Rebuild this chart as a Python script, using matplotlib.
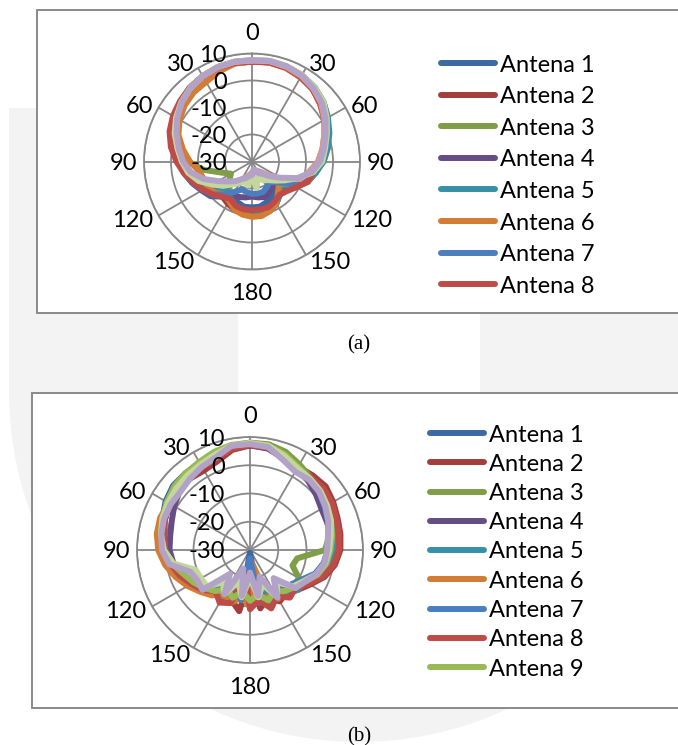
import numpy as np
import matplotlib
matplotlib.use('Agg')
import matplotlib.pyplot as plt
from matplotlib.patches import Rectangle, Wedge

plt.rcParams['font.family'] = ['Lato', 'DejaVu Sans']

W, H = 678, 745

# ---------------- data ----------------
ANGLES = list(range(0, 360, 10))
ANGLE_TICKS = [0, 30, 60, 90, 120, 150, 180, 210, 240, 270, 300, 330]
ANGLE_TICK_LABELS = ['0', '30', '60', '90', '120', '150', '180',
                     '150', '120', '90', '60', '30']
R_TICKS = [10, 0, -10, -20, -30]
R_MIN, R_MAX = -30, 10

# panel (a)
A_NAMES = ['Antena 1', 'Antena 2', 'Antena 3', 'Antena 4', 'Antena 5',
           'Antena 6', 'Antena 7', 'Antena 8', 'Antena 9', 'Antena 10', 'Antena 11']
A_LEGEND_COUNT = 8
A1 = [7.2, 7.5, 7.0, 6.5, 5.0, 3.5, 1.5, -0.5, -2.5, -4.0, -6.0, -8, -12, -15, -16, -15, -14, -13,
      -13, -13, -14, -15, -13, -10, -8.5, -6.5, -4.5, -2.5, -1.0, 0.5, 2.5, 4.0, 5.5, 6.5, 7.0, 7.2]
A2 = [7.0, 7.3, 7.0, 6.0, 5.0, 3.0, 1.0, -1.0, -3.0, -5.0, -7.0, -9, -13, -16, -14, -12, -11, -10.5,
      -10, -10.5, -11, -12, -13, -11, -9, -7, -5, -3, -1, 1.5, 3.5, 4.5, 5.5, 6.3, 6.8, 7.0]
A3 = [7.5, 7.8, 7.5, 7.0, 6.0, 4.5, 2.5, 0.0, -1.5, -3.5, -6.5, -8, -11, -14, -14, -12, -11, -10.5,
      -10, -11, -12, -14, -17, -19, -21, -18, -12, -6, -2.5, 0, 2.0, 4.0, 5.5, 6.5, 7.2, 7.5]
A4 = [7.2, 7.5, 7.0, 6.2, 5.0, 3.5, 1.5, -0.5, -2.5, -4.5, -7.5, -10, -12, -15, -18, -17, -16, -16.5,
      -17, -16.5, -16, -16, -15, -13, -11, -8, -6, -4, -2, 0.5, 2.5, 4.0, 5.5, 6.3, 7.0, 7.2]
A5 = [7.3, 7.6, 7.4, 6.8, 6.0, 4.5, 2.5, 0.5, -1.5, -3.5, -6.0, -9, -13, -16, -14, -12, -10.5, -10,
      -10, -10.5, -12, -14, -16, -13, -10, -7.5, -5.5, -3.5, -1.5, 1.0, 3.0, 4.5, 5.5, 6.5, 7.0, 7.3]
A6 = [7.0, 7.2, 6.8, 6.0, 5.0, 3.0, 1.0, -1.5, -3.5, -5.5, -8, -10, -14, -17, -15, -12, -10.5, -9.5,
      -9.5, -10, -11, -13, -14, -12, -11, -11, -10, -7, -4, -1, 1.0, 2.5, 3.5, 4.0, 5.5, 6.8]
A7 = [7.4, 7.6, 7.2, 6.5, 5.2, 3.5, 1.2, -1.0, -3.0, -5.0, -7.0, -9, -14, -18, -20, -19, -18, -18,
      -18, -18.5, -19, -17, -14, -11, -9, -7, -5, -3, -1.5, 1.0, 3.0, 4.5, 5.8, 6.5, 7.2, 7.4]
A8 = [7.0, 7.2, 7.0, 6.2, 5.0, 3.2, 1.0, -1.0, -3.0, -4.5, -7, -8, -11, -13, -14, -13, -12, -12,
      -12, -12, -12.5, -14, -13, -11, -9, -7, -4.5, -2.0, 0.5, 2.5, 3.8, 4.8, 5.8, 6.5, 7.0, 7.0]
A9 = [7.4, 7.7, 7.3, 6.6, 5.3, 3.5, 1.0, -1.5, -3.5, -5.5, -8.5, -11, -17, -22, -25, -26, -25, -24,
      -26, -25, -24, -22, -20, -17, -13, -9, -6.5, -4, -2, 0.3, 2.2, 4.0, 5.4, 6.4, 7.1, 7.4]
A10 = [7.6, 7.9, 7.6, 7.0, 6.0, 4.5, 2.0, -0.5, -2.5, -4.0, -7, -12, -16, -19, -21, -22, -24, -20,
       -24, -21, -22, -21, -19, -16, -13, -9, -6, -4, -2, 0.5, 2.5, 4.2, 5.6, 6.6, 7.3, 7.6]
A11 = [7.5, 7.8, 7.5, 6.8, 5.5, 3.8, 1.5, -1.0, -3.0, -4.8, -7.5, -12, -18, -21.5, -24, -25, -26.5, -27,
       -25, -24.5, -23.5, -22.5, -20.5, -18.5, -15.5, -11, -7, -4.5, -2.5, -0.3, 2.0, 4.0, 5.5, 6.5, 7.2, 7.5]
A_SERIES = [A1, A2, A3, A4, A5, A6, A7, A8, A9, A10, A11]

# panel (b)
B_NAMES = ['Antena 1', 'Antena 2', 'Antena 3', 'Antena 4', 'Antena 5', 'Antena 6',
           'Antena 7', 'Antena 8', 'Antena 9', 'Antena 10', 'Antena 11']
B_LEGEND_COUNT = 9
B1 = [7.5, 7.2, 5.5, 4.0, 3.5, 2.5, 1.0, -0.5, -1.5, -2.0, -3.0, -5.0, -8.5, -10, -13, -11, -15, -12,
      -29, -13, -16, -11, -13, -9, -7, -4, -1.5, 0.5, 1.5, 3.0, 4.5, 5.5, 5.5, 5.0, 5.5, 7.0]
B2 = [7.0, 6.5, 5.0, 4.0, 4.5, 5.0, 4.0, 3.0, 2.5, 2.0, 0.5, -2.0, -5.5, -8, -10, -9, -12, -9,
      -20, -8, -11, -9, -12, -8, -6, -3.5, -1.0, 0.5, 1.5, 2.0, 3.0, 3.5, 3.0, 2.5, 3.5, 6.0]
B3 = [8.0, 8.0, 7.0, 5.0, 3.5, 2.5, 1.5, 0, -1.5, -3.5, -13, -14, -10, -10, -14, -11, -14, -12,
      -16, -12, -14, -11, -14, -9, -7, -4.5, -1.5, 0.5, 1.5, 2.5, 4.0, 5.0, 5.5, 5.5, 6.5, 7.5]
B4 = [7.2, 6.5, 4.5, 3.0, 2.0, 0.5, -0.8, -1.0, -1.0, -1.5, -2.5, -4.5, -8, -11, -12, -14, -11, -15,
      -12, -16, -12, -15, -11, -8.5, -6.5, -4, -2.5, -1.5, -1.3, -0.5, 1.0, 2.5, 3.5, 4.0, 5.0, 6.5]
B5 = [7.5, 7.0, 5.0, 3.0, 3.0, 3.0, 2.0, 1.0, 0.5, 0, -1.5, -3.5, -7, -8, -10, -13, -10, -14,
      -24, -14, -12, -14, -10, -8.5, -6.5, -4, -1.5, 0, 1.0, 2.0, 3.5, 4.5, 4.5, 4.5, 5.5, 7.0]
B6 = [7.8, 7.0, 4.5, 3.5, 3.0, 2.0, 1.0, 0, -1.0, -2.0, -3.0, -5, -8, -10, -12, -10, -13, -25,
      -10, -13, -10, -12, -9, -7, -4.5, -2.0, 0.5, 2.5, 3.5, 3.8, 3.0, 3.0, 3.5, 4.0, 5.0, 7.0]
B7 = [7.5, 7.0, 5.0, 3.5, 3.0, 2.0, 0.5, -0.5, -1.5, -2.5, -3.5, -5.5, -9, -11, -12, -12.5, -15, -11,
      -27, -12, -15, -12, -14, -9.5, -7, -4.5, -2, 0, 1.5, 2.5, 4.0, 5.0, 5.0, 5.0, 6.0, 7.2]
B8 = [7.2, 6.8, 4.5, 3.5, 3.5, 4.0, 3.5, 2.5, 2.0, 1.5, 0, -2.5, -6, -9, -8, -11, -8, -12,
      -9, -21, -10, -8.5, -11, -8, -6, -3.5, -1.5, 0, 1.0, 2.0, 3.0, 4.0, 4.0, 4.0, 4.5, 6.5]
B9 = [8.0, 7.5, 6.0, 4.0, 3.0, 2.5, 1.5, 0.5, -0.5, -1.5, -2.5, -4.5, -7.5, -9.5, -11, -13, -11, -14,
      -12, -15, -12, -14, -11, -9, -7, -5, -2, 0.5, 2.0, 3.0, 4.0, 5.0, 5.5, 6.0, 7.0, 7.8]
B10 = [7.8, 7.5, 5.5, 3.5, 3.0, 2.5, 1.5, 0.5, -1.0, -2.0, -3.0, -5.0, -8.0, -10, -15, -11, -17, -13,
       -20, -13, -18, -12, -15, -10, -10, -9.5, -2.5, 0.5, 2.0, 3.0, 3.5, 4.0, 4.5, 5.0, 6.0, 7.5]
B11 = [7.5, 7.0, 4.0, 2.0, 2.5, 2.0, 0.8, -0.5, -2.0, -2.7, -3.2, -5.0, -7.5, -9.0, -17, -10.5, -20, -13.5,
       -22, -13.5, -23, -12, -19, -8, -8.5, -7.5, -1.0, 1.2, 1.9, 2.4, 2.4, 2.1, 3.0, 4.0, 5.0, 7.5]
B_SERIES = [B1, B2, B3, B4, B5, B6, B7, B8, B9, B10, B11]

COLORS = ['#3D69A2', '#A33E3B', '#809E47', '#664D86', '#3791A6', '#D27C34',
          '#4A7EBE', '#BF4B48', '#98B954']
A_COLORS = COLORS[:8] + ['#D99694', '#C3D69B', '#B3A2C7']
B_COLORS = COLORS[:9] + ['#C3D69B', '#B3A2C7']

GRID = '#878787'
BOX = '#8A8A8A'
WATERMARK = '#F3F3F3'
LINE_W = 4.3

# ---------------- figure ----------------
fig = plt.figure(figsize=(W / 100, H / 100), dpi=100)
fig.patch.set_facecolor('white')


def frac(x, y, w, h):
    return [x / W, 1 - (y + h) / H, w / W, h / H]


# background axes in pixel coordinates
bg = fig.add_axes([0, 0, 1, 1], zorder=-5)
bg.set_xlim(0, W)
bg.set_ylim(H, 0)
bg.axis('off')
# watermark
bg.add_patch(Rectangle((9, 108), 700, 284, facecolor=WATERMARK, edgecolor='none'))
bg.add_patch(Wedge((359, 392), 350, 0, 180, facecolor=WATERMARK, edgecolor='none'))
bg.add_patch(Rectangle((238, 100), 242, 460, facecolor='white', edgecolor='none'))
bg.add_patch(Wedge((359, 560), 121, 0, 180, facecolor='white', edgecolor='none'))
# chart boxes
bg.add_patch(Rectangle((37, 10), 700, 303, facecolor='white', edgecolor=BOX, lw=1.4))
bg.add_patch(Rectangle((32, 393), 700, 315, facecolor='white', edgecolor=BOX, lw=1.4))


def polar_panel(cx, cy, R, names, series, colors):
    ax = fig.add_axes(frac(cx - R, cy - R, 2 * R, 2 * R), projection='polar', zorder=1)
    ax.set_theta_zero_location('N')
    ax.set_theta_direction(-1)
    ax.set_ylim(R_MIN, R_MAX)
    ax.set_rgrids([-20, -10, 0, 10], labels=['', '', '', ''])
    ax.set_thetagrids(ANGLE_TICKS, labels=[''] * len(ANGLE_TICKS))
    ax.tick_params(length=0)
    ax.grid(True, color=GRID, lw=1.3)
    ax.spines['polar'].set_edgecolor(GRID)
    ax.spines['polar'].set_linewidth(1.3)
    ax.patch.set_alpha(0)
    theta = np.deg2rad(ANGLES + [360])
    for name, vals, col in zip(names, series, colors):
        ax.plot(theta, list(vals) + [vals[0]], color=col, lw=LINE_W,
                solid_joinstyle='round', solid_capstyle='round', label=name, zorder=3)
    # angular labels
    for ang, lab in zip(ANGLE_TICKS, ANGLE_TICK_LABELS):
        t = np.deg2rad(ang)
        s, c = np.sin(t), np.cos(t)
        if ang in (0, 180):
            k, ha = 1.2, 'center'
        else:
            k, ha = 1.06, ('left' if s > 0 else 'right')
        ax.text(0.5 + 0.5 * k * s, 0.5 + 0.5 * k * c, lab, transform=ax.transAxes,
                ha=ha, va='center_baseline', fontsize=17, clip_on=False)
    # radial labels
    for v in R_TICKS:
        ax.text(0.5 - 25.0 / (2 * R), 0.5 + 0.5 * (v - R_MIN) / (R_MAX - R_MIN), f'{v}',
                transform=ax.transAxes, ha='right', va='center_baseline',
                fontsize=17, clip_on=False)
    return ax


polar_panel(252, 161.5, 108, A_NAMES, A_SERIES, A_COLORS)
polar_panel(250, 550, 113, B_NAMES, B_SERIES, B_COLORS)


def legend(x0, x1, y0, dy, names, colors, n):
    for i in range(n):
        y = y0 + i * dy
        bg.plot([x0, x1], [y, y], color=colors[i], lw=LINE_W, solid_capstyle='round')
        bg.text(x1 + 5, y, names[i], ha='left', va='center_baseline', fontsize=17)


legend(441, 495, 63, 31.6, A_NAMES, A_COLORS, A_LEGEND_COUNT)
legend(430, 484, 433, 29.25, B_NAMES, B_COLORS, B_LEGEND_COUNT)

bg.text(359, 342, '(a)', ha='center', va='center_baseline', fontsize=15,
        family=['Liberation Serif', 'DejaVu Serif'])
bg.text(359, 734, '(b)', ha='center', va='center_baseline', fontsize=15,
        family=['Liberation Serif', 'DejaVu Serif'])

fig.savefig('out.png', dpi=100, facecolor='white')
